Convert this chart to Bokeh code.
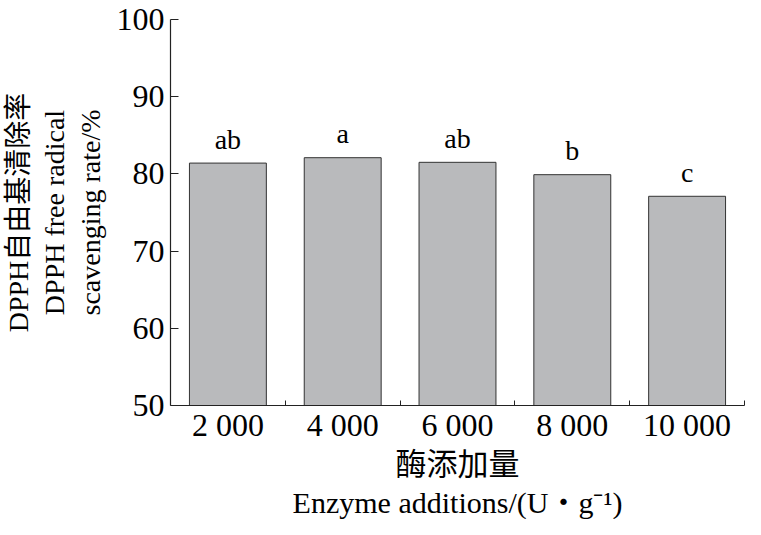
from bokeh.plotting import figure
from bokeh.models import FixedTicker, Range1d, Title
from bokeh.core.properties import value
from bokeh.embed import file_html
from bokeh.resources import INLINE

categories = ["2 000", "4 000", "6 000", "8 000", "10 000"]
scavenging = [81.4, 82.1, 81.5, 79.9, 77.1]
letters = ["ab", "a", "ab", "b", "c"]
y_ticks = [50, 60, 70, 80, 90, 100]

xs = list(range(1, len(categories) + 1))
serif = "Liberation Serif, Noto Sans CJK SC"

p = figure(width=745, height=519, x_range=Range1d(0.5, len(categories) + 0.5),
           y_range=Range1d(y_ticks[0], y_ticks[-1]),
           output_backend="svg", toolbar_location=None,
           min_border_left=162, min_border_right=1, min_border_top=19,
           min_border_bottom=0)
p.outline_line_color = None
p.xgrid.visible = False
p.ygrid.visible = False
p.background_fill_color = "white"

p.vbar(x=xs, top=scavenging, bottom=y_ticks[0], width=0.67,
       fill_color="#b9babc", line_color="#333333", line_width=1)

p.text(x=xs, y=scavenging, text=letters, text_align="center",
       text_baseline="alphabetic", y_offset=-24,
       text_font=value("Liberation Serif"), text_font_size="28px", text_color="black")

# x axis
p.xaxis.ticker = FixedTicker(ticks=xs, minor_ticks=[x + 0.5 for x in xs])
p.xaxis.major_label_overrides = {x: c for x, c in zip(xs, categories)}
p.xaxis.major_tick_line_color = None
p.xaxis.minor_tick_in = 5
p.xaxis.minor_tick_out = 0
p.xaxis.minor_tick_line_color = "#222222"
p.xaxis.major_label_standoff = -5
p.xaxis.axis_label = "酶添加量"
p.xaxis.axis_label_standoff = 1

eng = Title(text="Enzyme additions/(U・g⁻¹)", align="center", standoff=0, offset=0,
            vertical_align="middle", text_line_height=1.0,
            text_font=serif, text_font_size="30px", text_font_style="normal",
            text_color="black")
p.add_layout(eng, "below")

# y axis
p.yaxis.ticker = FixedTicker(ticks=y_ticks)
p.yaxis.major_tick_in = 8
p.yaxis.major_tick_out = 0
p.yaxis.minor_tick_line_color = None
p.yaxis.major_label_standoff = 6
p.yaxis.axis_label = "DPPH自由基清除率\nDPPH free radical\nscavenging rate/%"
p.yaxis.axis_label_standoff = 8

for ax in (p.xaxis, p.yaxis):
    ax.axis_line_color = "#222222"
    ax.axis_line_width = 1.2
    ax.major_label_text_font = serif
    ax.major_label_text_font_size = "32px"
    ax.major_label_text_color = "black"
    ax.axis_label_text_font = serif
    ax.axis_label_text_font_style = "normal"
    ax.axis_label_text_color = "black"
p.yaxis.major_tick_line_color = "#222222"

p.xaxis.axis_label_text_font_size = "31px"
p.yaxis.axis_label_text_font_size = "28px"
p.yaxis.axis_label_text_line_height = 1.15

open("out.html", "w").write(file_html(p, INLINE))
